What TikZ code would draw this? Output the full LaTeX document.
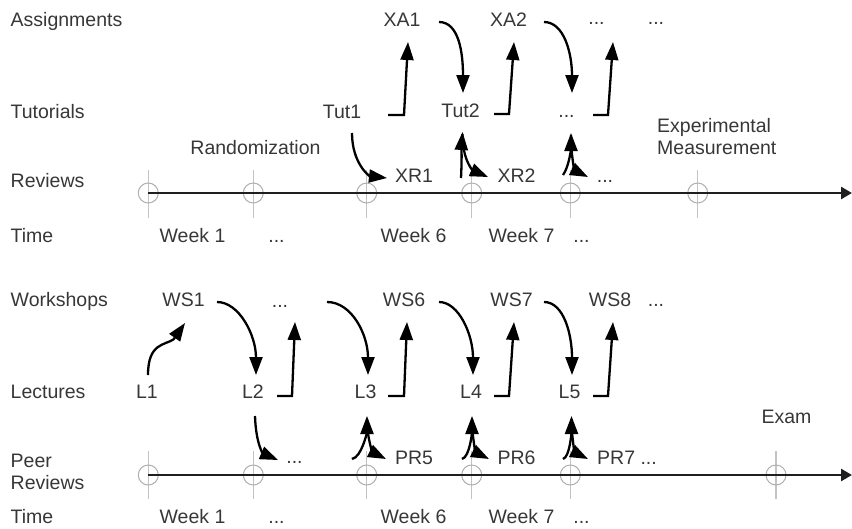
\documentclass[tikz,border=0pt]{standalone}
\usepackage{fontspec}
\setmainfont{Liberation Sans}
\usetikzlibrary{arrows.meta}
\definecolor{txt}{RGB}{55,55,55}
\definecolor{tickc}{RGB}{195,195,195}
\definecolor{ringc}{RGB}{175,175,175}
\begin{document}
\begin{tikzpicture}[x=1pt,y=-1pt,
  lbl/.style={inner sep=0pt, text height=14pt, text depth=0pt, text=txt, font=\fontsize{19.5}{22}\selectfont},
  row/.style={lbl, anchor=west},
  ml/.style={inner sep=0pt, text=txt, align=left, anchor=north west, font=\fontsize{19.5}{22}\selectfont},
  arr/.style={draw=black, line width=2.3pt, -{Triangle[length=18pt,width=13pt]}},
  axis/.style={draw=black!88, line width=2.6pt, -{Triangle[length=11pt,width=12pt]}},
  tickln/.style={draw=tickc, line width=1.3pt},
  ring/.style={draw=ringc, line width=1pt}
]
\useasboundingbox (0,0) rectangle (852,528);

% ---------- top timeline ----------
\foreach \x in {148.3,253.3,366.7,471.7,570.3,697.7}{
  \draw[tickln] (\x,170) -- (\x,218);
  \draw[ring] (\x,193) circle (10pt);
}
\coordinate (ta) at (148.3,193);
\coordinate (tb) at (852,193);
\draw[axis] (ta) -- (tb);

% ---------- bottom timeline ----------
\foreach \x in {148.3,253.3,366.7,471.7,570.3,776}{
  \draw[tickln] (\x,451) -- (\x,499);
  \draw[ring] (\x,475) circle (10pt);
}
\coordinate (ba) at (148.3,475);
\coordinate (bb) at (852,475);
\draw[axis] (ba) -- (bb);

% ---------- row labels ----------
\node[row] (lAssign) at (10.5,19) {Assignments};
\node[row] (lTut) at (10.5,111) {Tutorials};
\node[row] (lRev) at (10.5,180) {Reviews};
\node[row] (lTime) at (10.5,235) {Time};
\node[row] (lWork) at (10.5,299.5) {Workshops};
\node[row] (lLect) at (10.5,391) {Lectures};
\node[ml] (lPeer) at (10.5,454) {Peer\\Reviews};
\node[row] (lTime2) at (10.5,516) {Time};

% ---------- top nodes ----------
\node[lbl] (rand) at (255.5,147) {Randomization};
\node[ml] (expm) at (657,118.5) {Experimental\\Measurement};
\node[lbl] (XA1) at (402,19) {XA1};
\node[lbl] (XA2) at (508.5,19) {XA2};
\node[lbl] (XA3) at (596.5,17) {...};
\node[lbl] (XA4) at (656,17) {...};
\node[lbl] (Tut1) at (342,111) {Tut1};
\node[lbl] (Tut2) at (460.5,110) {Tut2};
\node[lbl] (Tut3) at (566.5,110) {...};
\node[lbl] (XR1) at (414,175) {XR1};
\node[lbl] (XR2) at (516.5,175) {XR2};
\node[lbl] (XR3) at (605,175) {...};
\node[lbl] (tw1) at (192.5,235) {Week 1};
\node[lbl] (twd) at (276.5,235) {...};
\node[lbl] (tw6) at (413.5,235) {Week 6};
\node[lbl] (tw7) at (521.5,235) {Week 7};
\node[lbl] (twe) at (581.5,235) {...};

% ---------- bottom nodes ----------
\node[lbl] (WS1) at (183.5,299) {WS1};
\node[lbl] (WS2) at (280,300) {...};
\node[lbl] (WS6) at (404,299) {WS6};
\node[lbl] (WS7) at (511.5,299) {WS7};
\node[lbl] (WS8) at (610,299) {WS8};
\node[lbl] (WS9) at (656,299) {...};
\node[lbl] (L1) at (147,391) {L1};
\node[lbl] (L2) at (253,391) {L2};
\node[lbl] (L3) at (365.5,391) {L3};
\node[lbl] (L4) at (471,391) {L4};
\node[lbl] (L5) at (569.5,391) {L5};
\node[lbl] (exam) at (786.5,416) {Exam};
\node[lbl] (PRd) at (294.5,456) {...};
\node[lbl] (PR5) at (414,457.5) {PR5};
\node[lbl] (PR6) at (516.5,457) {PR6};
\node[lbl] (PR7) at (627,457) {PR7 ...};
\node[lbl] (bw1) at (192.5,516) {Week 1};
\node[lbl] (bwd) at (276.5,516) {...};
\node[lbl] (bw6) at (413.5,516) {Week 6};
\node[lbl] (bw7) at (521.5,516) {Week 7};
\node[lbl] (bwe) at (581.5,516) {...};

% ---------- top connectors ----------
\draw[arr] ([shift={(10,22)}]Tut1.center) .. controls +(0,30) and +(-18,-2) .. ([shift={(-27,3)}]XR1.center);
\draw[arr] ([shift={(46,4)}]Tut1.center) -- ++(16,0) -- ([shift={(6,23)}]XA1.center);
\draw[arr] ([shift={(37,3)}]XA1.center) .. controls +(20,0) and +(0,-40) .. ([shift={(2.5,-17)}]Tut2.center);
\draw[arr] ([shift={(33.5,4)}]Tut2.center) -- ++(15,0) -- ([shift={(5.5,23)}]XA2.center);
\draw[arr] ([shift={(35.5,3)}]XA2.center) .. controls +(20,0) and +(0,-40) .. ([shift={(5.5,-17)}]Tut3.center);
\draw[arr] ([shift={(26.5,5)}]Tut3.center) -- ++(15,0) -- ([shift={(16.5,25)}]XA3.center);
\draw[arr] ([shift={(47,3)}]XR1.center) .. controls +(1,-20) and +(-1,15) .. ([shift={(2,22)}]Tut2.center);
\draw[arr] ([shift={(2,24)}]Tut2.center) .. controls +(0,28) and +(-14,-6) .. ([shift={(-28.5,2)}]XR2.center);
\draw[arr] ([shift={(46.5,0)}]XR2.center) .. controls +(6,-8) and +(0,15) .. ([shift={(4.5,23)}]Tut3.center);
\draw[arr] ([shift={(4.5,25)}]Tut3.center) .. controls +(0,26) and +(-12,-6) .. ([shift={(-17,2)}]XR3.center);

% ---------- bottom connectors ----------
\draw[arr] ([shift={(1,-16)}]L1.center) .. controls +(0,-32) and +(-9,6) .. ([shift={(-10,40.4)}]WS1.center) -- ([shift={(1.5,24)}]WS1.center);
\draw[arr] ([shift={(33.5,3)}]WS1.center) .. controls +(22,0) and +(0,-40) .. ([shift={(3,-16)}]L2.center);
\draw[arr] ([shift={(24,5)}]L2.center) -- ++(15,0) -- ([shift={(15,22)}]WS2.center);
\draw[arr] ([shift={(47,2)}]WS2.center) .. controls +(25,0) and +(0,-40) .. ([shift={(2.5,-16)}]L3.center);
\draw[arr] ([shift={(22.5,5)}]L3.center) -- ++(16,0) -- ([shift={(3,23)}]WS6.center);
\draw[arr] ([shift={(35,3)}]WS6.center) .. controls +(20,0) and +(0,-40) .. ([shift={(2,-16)}]L4.center);
\draw[arr] ([shift={(23,5)}]L4.center) -- ++(15,0) -- ([shift={(2.5,23)}]WS7.center);
\draw[arr] ([shift={(32.5,3)}]WS7.center) .. controls +(20,0) and +(0,-40) .. ([shift={(2.5,-16)}]L5.center);
\draw[arr] ([shift={(23.5,5)}]L5.center) -- ++(15,0) -- ([shift={(3,23)}]WS8.center);

\draw[arr] ([shift={(2,25)}]L2.center) .. controls +(1,30) and +(-14,-6) .. ([shift={(-16.5,4)}]PRd.center);
\draw[arr] ([shift={(57.5,3)}]PRd.center) .. controls +(10,-2) and +(0,15) .. ([shift={(1.5,25)}]L3.center);
\draw[arr] ([shift={(1.5,28)}]L3.center) .. controls +(0,22) and +(-12,-6) .. ([shift={(-28,1.5)}]PR5.center);
\draw[arr] ([shift={(48,1.5)}]PR5.center) .. controls +(8,-2) and +(0,15) .. ([shift={(1,25)}]L4.center);
\draw[arr] ([shift={(1,28)}]L4.center) .. controls +(0,22) and +(-12,-6) .. ([shift={(-27.5,2)}]PR6.center);
\draw[arr] ([shift={(46.5,2)}]PR6.center) .. controls +(7,-2) and +(0,15) .. ([shift={(2,25)}]L5.center);
\draw[arr] ([shift={(2,28)}]L5.center) .. controls +(0,22) and +(-12,-6) .. ([shift={(-39,2)}]PR7.center);
\end{tikzpicture}
\end{document}
